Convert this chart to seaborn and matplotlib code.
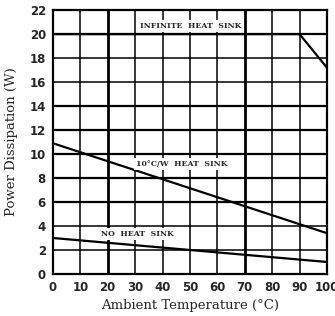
import matplotlib
matplotlib.use("Agg")
import matplotlib.pyplot as plt
import seaborn as sns
import pandas as pd

# Data
temp_infinite = [0, 90, 100]
power_infinite = [20.0, 20.0, 17.2]
temp_10cw = [0, 100]
power_10cw = [10.9, 3.4]
temp_none = [0, 100]
power_none = [3.0, 1.0]
x_ticks = [0, 10, 20, 30, 40, 50, 60, 70, 80, 90, 100]
y_ticks = [0, 2, 4, 6, 8, 10, 12, 14, 16, 18, 20, 22]

sns.set_style("white")
plt.rcParams['font.family'] = ['DejaVu Serif']

fig = plt.figure(figsize=(3.35, 3.16), dpi=100)
ax = fig.add_axes([0.158, 0.133, 0.818, 0.835])

df = pd.concat([
    pd.DataFrame({"T": temp_infinite, "P": power_infinite, "s": "inf"}),
    pd.DataFrame({"T": temp_10cw, "P": power_10cw, "s": "10"}),
    pd.DataFrame({"T": temp_none, "P": power_none, "s": "none"}),
])
sns.lineplot(data=df, x="T", y="P", units="s", estimator=None, color="black",
             linewidth=1.6, ax=ax, legend=False, zorder=3)

ax.set_xlim(0, 100)
ax.set_ylim(0, 22)
ax.set_xticks(x_ticks)
ax.set_yticks(y_ticks)
for v in x_ticks[1:-1]:
    ax.axvline(v, color="black", lw=2.0 if v in (20, 70) else 1.1, zorder=1)
for v in y_ticks[1:-1]:
    ax.axhline(v, color="black", lw=1.6 if v in (20, 14, 12, 10, 8, 6) else 1.1, zorder=1)
for s in ax.spines.values():
    s.set_color("black")
    s.set_linewidth(1.6)
ax.tick_params(length=0, labelsize=8.5, pad=5)
for lab in ax.get_xticklabels() + ax.get_yticklabels():
    lab.set_fontweight("bold")
    lab.set_family("DejaVu Sans")

ax.set_xlabel("Ambient Temperature (°C)", fontsize=9.5, labelpad=4)
ax.set_ylabel("Power Dissipation (W)", fontsize=9.5, labelpad=8)

box = dict(facecolor="white", edgecolor="none", pad=1.5)
kw = dict(ha="center", va="center", fontsize=5.6, fontweight="bold",
          family="DejaVu Serif", bbox=box, zorder=4)
ax.text(50.2, 20.7, "INFINITE  HEAT  SINK", **kw)
ax.text(47.1, 9.17, "10°C/W  HEAT  SINK", **kw)
ax.text(30.7, 3.36, "NO  HEAT  SINK", **kw)

fig.savefig("out.png", dpi=100)
